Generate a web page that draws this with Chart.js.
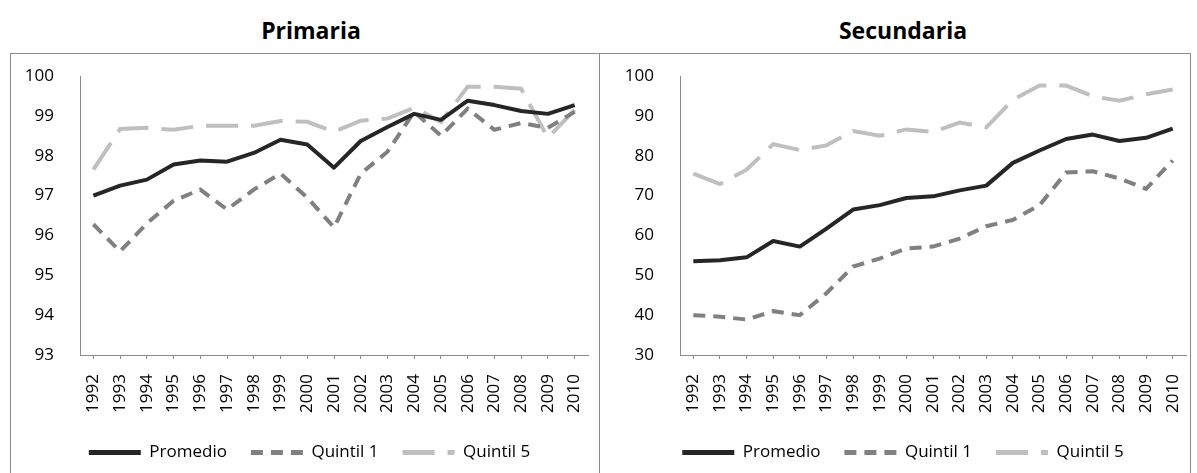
<!DOCTYPE html>
<html>
<head>
<meta charset="utf-8">
<script src="https://cdn.jsdelivr.net/npm/chart.js@4.4.1/dist/chart.umd.min.js"></script>
<style>
  body { margin: 0; background: #fff; width: 1197px; height: 473px; overflow: hidden; position: relative; font-family: "Open Sans", sans-serif; }
  .title { position: absolute; top: 19px; line-height: 23px; font-weight: bold; font-size: 23px; text-align: center; color: #000; }
  .box { position: absolute; top: 53px; height: 440px; border: 1px solid #8c8c8c; box-sizing: border-box; }
  .wrap { position: absolute; top: 54px; height: 420px; }
</style>
</head>
<body>
<div class="title" style="left:211px; width:200px;">Primaria</div>
<div class="title" style="left:803px; width:200px;">Secundaria</div>
<div class="box" style="left:10px; width:590px;"></div>
<div class="box" style="left:599px; width:592px;"></div>
<div class="wrap" style="left:11px; width:587px;"><canvas id="primaria"></canvas></div>
<div class="wrap" style="left:600px; width:589px;"><canvas id="secundaria"></canvas></div>
<script>
// categories
const years = ['1992', '1993', '1994', '1995', '1996', '1997', '1998', '1999', '2000', '2001',
               '2002', '2003', '2004', '2005', '2006', '2007', '2008', '2009', '2010'];

// Primaria
const primPromedio = [97.0, 97.25, 97.4, 97.78, 97.88, 97.85, 98.07, 98.4, 98.28, 97.7,
                      98.37, 98.72, 99.05, 98.9, 99.38, 99.27, 99.12, 99.05, 99.27];
const primQuintil1 = [96.28, 95.6, 96.3, 96.87, 97.15, 96.65, 97.15, 97.55, 96.95, 96.2,
                      97.55, 98.1, 99.1, 98.5, 99.18, 98.65, 98.82, 98.7, 99.1];
const primQuintil5 = [97.65, 98.67, 98.7, 98.65, 98.75, 98.75, 98.75, 98.87, 98.85, 98.6,
                      98.88, 98.93, 99.2, 98.85, 99.73, 99.73, 99.68, 98.45, 99.15];

// Secundaria
const secPromedio = [53.5, 53.8, 54.5, 58.6, 57.2, 61.7, 66.5, 67.6, 69.4, 69.8,
                     71.3, 72.5, 78.2, 81.3, 84.2, 85.3, 83.7, 84.5, 86.8];
const secQuintil1 = [40.0, 39.6, 38.9, 41.0, 40.0, 45.5, 52.2, 54.2, 56.7, 57.2,
                     59.2, 62.3, 63.9, 67.6, 75.8, 76.1, 74.3, 71.7, 78.8];
const secQuintil5 = [75.5, 72.9, 76.5, 82.9, 81.4, 82.6, 86.2, 85.0, 86.6, 86.0,
                     88.3, 87.1, 94.0, 97.6, 97.6, 94.9, 93.8, 95.4, 96.6];

// axis ranges
const primAxis = { min: 93, max: 100, step: 1 };
const secAxis = { min: 30, max: 100, step: 10 };

const FONT = '"Open Sans", sans-serif';

// nudge the legend a little to the right, like the original
const legendShift = {
    id: 'legendShift',
    afterLayout: function(chart) {
        if (chart.legend) {
            chart.legend.left += 10;
            chart.legend.right += 10;
        }
    }
};

function noPad(scale) {
    scale.paddingLeft = 0;
    scale.paddingRight = 0;
    scale.paddingTop = 0;
    scale.paddingBottom = 0;
}

function makeChart(id, promedio, quintil1, quintil5, axis, yWidth, padRight) {
    const ctx = document.getElementById(id).getContext('2d');
    return new Chart(ctx, {
        type: 'line',
        data: {
            labels: years,
            datasets: [
                { label: 'Promedio', data: promedio, borderColor: '#262626', borderWidth: 4,
                  borderJoinStyle: 'round' },
                { label: 'Quintil 1', data: quintil1, borderColor: '#808080', borderWidth: 4,
                  borderDash: [12, 8] },
                { label: 'Quintil 5', data: quintil5, borderColor: '#bfbfbf', borderWidth: 4,
                  borderDash: [32, 13] }
            ]
        },
        options: {
            responsive: true,
            maintainAspectRatio: false,
            animation: false,
            elements: { point: { radius: 0 }, line: { tension: 0, fill: false } },
            layout: { padding: { top: 22, right: padRight, bottom: 3, left: 0 } },
            plugins: {
                tooltip: { enabled: false },
                legend: {
                    position: 'bottom',
                    labels: {
                        usePointStyle: true,
                        pointStyle: 'line',
                        pointStyleWidth: 52,
                        color: '#000',
                        padding: 24,
                        font: { family: FONT, size: 17 },
                        generateLabels: function(chart) {
                            const items = Chart.defaults.plugins.legend.labels.generateLabels(chart);
                            items.forEach(function(item) {
                                const ds = chart.data.datasets[item.datasetIndex];
                                item.lineDash = ds.borderDash || [];
                                item.lineWidth = 5;
                            });
                            return items;
                        }
                    }
                }
            },
            scales: {
                x: {
                    offset: true,
                    afterFit: function(scale) { scale.height = 65; noPad(scale); },
                    grid: { display: true, drawOnChartArea: false, offset: false, tickLength: 4, color: '#8c8c8c' },
                    border: { color: '#8c8c8c', width: 1 },
                    ticks: { color: '#000', minRotation: 90, maxRotation: 90, autoSkip: false, padding: 15,
                             font: { family: FONT, size: 17 } }
                },
                y: {
                    min: axis.min,
                    max: axis.max,
                    afterFit: function(scale) { scale.width = yWidth; noPad(scale); },
                    grid: { display: false },
                    border: { color: '#8c8c8c', width: 1 },
                    ticks: { stepSize: axis.step, color: '#000', padding: 18,
                             font: { family: FONT, size: 17 } }
                }
            }
        },
        plugins: [legendShift]
    });
}

makeChart('primaria', primPromedio, primQuintil1, primQuintil5, primAxis, 69, 10);
makeChart('secundaria', secPromedio, secQuintil1, secQuintil5, secAxis, 80, 3);
</script>
</body>
</html>
